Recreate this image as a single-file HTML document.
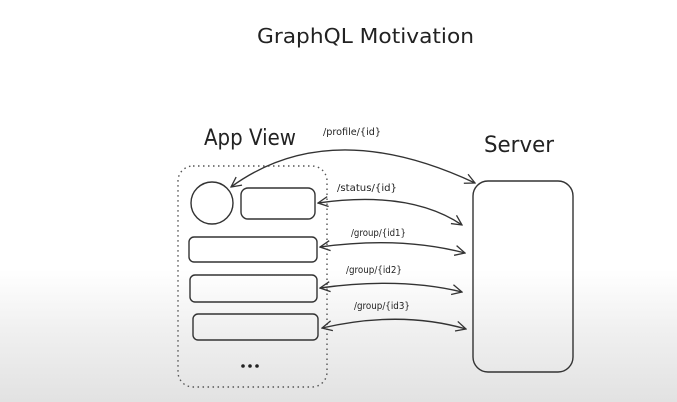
<!DOCTYPE html>
<html><head><style>
html,body{margin:0;padding:0;}
body{width:677px;height:402px;overflow:hidden;background:linear-gradient(to bottom,#ffffff 0px,#ffffff 270px,#f0f0f0 330px,#e2e2e2 402px);}
</style></head><body>
<svg width="677" height="402" xmlns="http://www.w3.org/2000/svg" style="position:absolute;left:0;top:0">
<defs>
<marker id="a" viewBox="0 0 12 12" refX="11" refY="6" markerWidth="12" markerHeight="12" markerUnits="userSpaceOnUse" orient="auto-start-reverse">
<path d="M1 1 L11 6 L1 11" fill="none" stroke="#333" stroke-width="1.3"/>
</marker>
</defs>
<g font-family="'Comic Sans MS','DejaVu Sans',sans-serif" fill="#222">
<text x="257" y="43" font-size="20" textLength="217" lengthAdjust="spacingAndGlyphs">GraphQL Motivation</text>
<text x="204" y="145" font-size="22" textLength="92" lengthAdjust="spacingAndGlyphs">App View</text>
<text x="484" y="152" font-size="22" textLength="70" lengthAdjust="spacingAndGlyphs">Server</text>
<g font-size="10">
<text x="323" y="135" textLength="58" lengthAdjust="spacingAndGlyphs">/profile/{id}</text>
<text x="337" y="191" textLength="60" lengthAdjust="spacingAndGlyphs">/status/{id}</text>
<text x="351" y="236" textLength="55" lengthAdjust="spacingAndGlyphs">/group/{id1}</text>
<text x="346" y="273" textLength="56" lengthAdjust="spacingAndGlyphs">/group/{id2}</text>
<text x="354" y="309" textLength="56" lengthAdjust="spacingAndGlyphs">/group/{id3}</text>
</g>
</g>
<g fill="none" stroke="#333" stroke-width="1.4">
<rect x="178" y="166" width="149" height="221" rx="15" stroke-dasharray="1.5 3.5" stroke="#555"/>
<circle cx="212" cy="203" r="21"/>
<rect x="241" y="188" width="74" height="31" rx="7"/>
<rect x="189" y="237" width="128" height="25" rx="5"/>
<rect x="190" y="275" width="127" height="27" rx="5"/>
<rect x="193" y="314" width="125" height="26" rx="5"/>
<rect x="473" y="181" width="100" height="191" rx="15"/>
<path d="M231 187 Q330 115 475 183" marker-start="url(#a)" marker-end="url(#a)"/>
<path d="M318 203 Q410 190 462 225" marker-start="url(#a)" marker-end="url(#a)"/>
<path d="M320 247 Q400 236 465 253" marker-start="url(#a)" marker-end="url(#a)"/>
<path d="M320 288 Q400 277 462 292" marker-start="url(#a)" marker-end="url(#a)"/>
<path d="M322 328 Q400 310 466 329" marker-start="url(#a)" marker-end="url(#a)"/>
</g>
<g fill="#222"><circle cx="243" cy="366" r="1.8"/><circle cx="250" cy="366" r="1.8"/><circle cx="257" cy="366" r="1.8"/></g>
</svg>
</body></html>
